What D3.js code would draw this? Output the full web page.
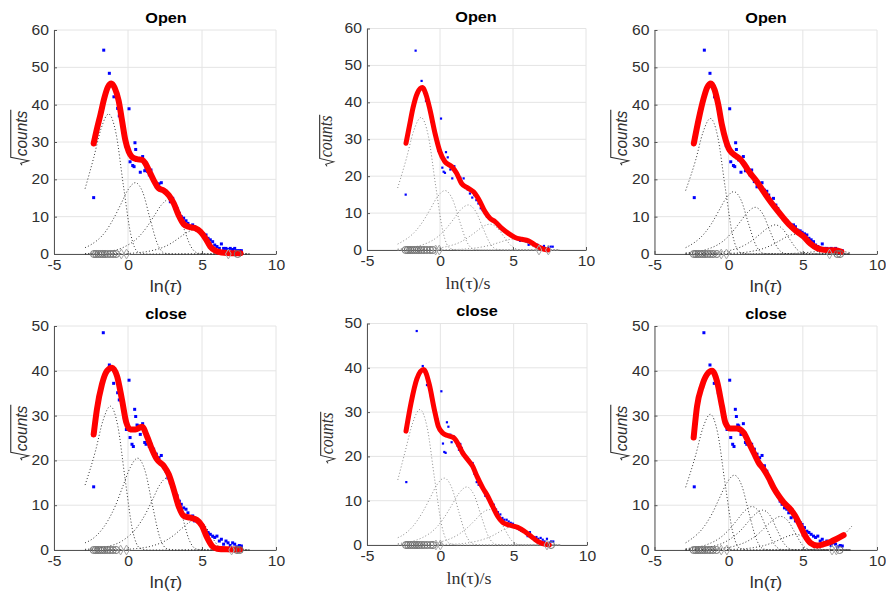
<!DOCTYPE html>
<html>
<head>
<meta charset="utf-8">
<script src="https://cdn.jsdelivr.net/npm/d3@7"></script>
<style>
  body { margin: 0; background: #fff; }
  svg { display: block; }
</style>
</head>
<body>
<svg id="fig" width="886" height="596"></svg>
<script>
// ---- data ----
const titles = ['Open', 'Open', 'Open', 'close', 'close', 'close'];
const xTicks = [-5, 0, 5, 10];
const yTicksOpen = [0, 10, 20, 30, 40, 50, 60];
const yTicksClose = [0, 10, 20, 30, 40, 50];

// sqrt(counts) per log bin, "Open" data set (panels 1 and 3)
const openPts = [[-2.32,15.1],[-1.64,54.6],[-1.26,48.4],[-0.95,42.1],[-0.70,39.0],[-0.59,37.0],[-0.25,31.4],[-0.16,29.0],
  [0.07,38.9],[0.14,24.7],[0.32,23.7],[0.41,23.4],[0.47,29.8],[0.52,28.0],[0.68,25.2],[0.83,21.9],[0.99,26.1],[1.13,22.3],
  [1.22,22.9],[1.33,22.1],[1.44,21.2],[1.55,22.5],[1.73,19.4],[1.91,18.0],[2.09,18.8],[2.25,19.1],[2.41,17.1],[2.57,16.8],
  [2.70,15.8],[2.86,14.0],[3.02,14.9],[3.18,13.1],[3.31,12.2],[3.47,10.9],[3.60,10.0],[3.76,9.6],[3.92,8.9],[4.05,8.2],
  [4.21,7.1],[4.37,7.8],[4.50,7.3],[4.66,6.4],[4.82,6.2],[4.95,5.8],[5.11,5.4],[5.27,5.1],[5.41,4.2],[5.56,3.8],[5.72,3.3],
  [5.86,2.4],[6.01,2.0],[6.17,1.5],[6.31,2.7],[6.46,1.5],[6.62,1.5],[6.76,1.2],[6.91,1.5],[7.07,1.2],[7.21,1.5],[7.36,0.9],
  [7.52,0.9],[7.66,0.9]];
// "Open" data, panel 2
const openPtsB = [[-2.35,15.0],[-1.67,54.0],[-1.26,45.8],[-0.96,40.4],[-0.68,37.0],[-0.57,34.7],[-0.23,29.3],[-0.11,26.9],
  [0.07,35.6],[0.16,22.3],[0.25,21.2],[0.34,20.9],[0.41,26.5],[0.53,25.1],[0.71,21.8],[0.84,19.4],[0.98,22.7],[1.14,20.9],
  [1.26,20.0],[1.39,19.6],[1.48,18.5],[1.62,19.4],[1.76,17.0],[1.89,16.4],[2.05,15.3],[2.21,14.2],[2.35,14.9],[2.49,13.5],
  [2.63,12.6],[2.79,11.3],[2.92,10.8],[3.08,9.9],[3.22,9.0],[3.38,8.6],[3.54,8.3],[3.68,8.1],[3.84,7.4],[3.97,7.0],[4.13,6.0],
  [4.27,5.4],[4.43,5.4],[4.57,5.0],[4.73,4.5],[4.86,4.1],[5.02,3.8],[5.18,3.4],[5.32,2.9],[5.48,2.5],[5.62,2.7],[5.78,2.5],
  [5.91,2.3],[6.07,1.4],[6.21,1.8],[6.37,1.5],[6.51,1.1],[6.67,1.4],[6.80,0.9],[6.96,0.7],[7.12,1.1],[7.26,0.45],[7.42,0.7],
  [7.58,0.9],[7.72,0.9]];
// "close" data set (panels 4 and 6)
const closePts = [[-2.32,14.1],[-1.67,48.5],[-1.26,41.3],[-0.97,37.2],[-0.70,35.1],[-0.59,33.5],[-0.25,29.5],[-0.11,26.9],
  [0.07,37.9],[0.14,25.1],[0.27,23.6],[0.36,23.1],[0.45,31.4],[0.52,29.8],[0.61,27.9],[0.68,27.7],[0.83,25.8],[0.99,28.2],
  [1.13,24.0],[1.22,23.6],[1.33,24.7],[1.44,23.1],[1.55,23.6],[1.73,22.5],[1.91,21.4],[2.09,20.6],[2.25,21.1],[2.41,18.8],
  [2.57,17.6],[2.70,16.1],[2.86,15.0],[3.02,14.3],[3.18,12.8],[3.31,12.1],[3.47,10.9],[3.60,10.2],[3.76,9.4],[3.92,9.1],
  [4.05,8.3],[4.21,7.2],[4.37,7.6],[4.50,6.5],[4.66,6.7],[4.82,6.1],[4.95,5.7],[5.11,5.0],[5.27,4.2],[5.41,3.9],[5.56,3.5],
  [5.72,3.1],[5.86,2.8],[6.01,3.1],[6.17,2.0],[6.31,2.4],[6.46,1.3],[6.62,2.0],[6.76,1.6],[6.91,1.0],[7.07,1.6],[7.21,1.3],
  [7.36,0.7],[7.52,1.0],[7.66,0.9]];
// "close" data, panel 5
const closePtsB = [[-2.32,14.2],[-1.61,48.3],[-1.20,40.4],[-0.91,36.1],[-0.64,33.6],[-0.52,31.7],[-0.18,28.3],[-0.07,26.1],
  [0.07,34.7],[0.18,22.9],[0.27,21.0],[0.36,20.8],[0.45,27.7],[0.55,26.7],[0.68,24.9],[0.77,23.2],[0.91,24.5],[1.07,23.8],
  [1.18,22.4],[1.27,21.5],[1.36,22.8],[1.45,21.9],[1.59,20.8],[1.75,19.7],[1.91,18.9],[2.05,18.5],[2.20,18.5],[2.32,16.1],
  [2.48,14.2],[2.61,13.6],[2.77,13.3],[2.91,12.9],[3.07,11.1],[3.23,10.6],[3.36,10.1],[3.50,9.5],[3.64,9.1],[3.80,8.0],
  [3.93,7.4],[4.09,6.9],[4.23,6.1],[4.36,5.7],[4.52,5.7],[4.66,5.3],[4.80,5.0],[4.95,4.8],[5.09,4.2],[5.23,3.8],[5.39,3.5],
  [5.52,3.2],[5.68,3.1],[5.82,2.9],[5.95,2.0],[6.11,2.9],[6.25,1.6],[6.39,1.4],[6.55,1.8],[6.68,1.4],[6.84,1.6],[6.98,1.2],
  [7.11,0.8],[7.27,1.4],[7.41,0.5],[7.55,0.8],[7.70,0.8]];

// fitted totals (red)
const fit1 = [[-2.32,29.6],[-2.1,33.5],[-1.87,37.2],[-1.6,41.8],[-1.35,44.8],[-1.13,45.7],[-0.9,44.5],[-0.63,41.0],[-0.41,35.9],
  [-0.18,30.5],[0.05,27.4],[0.27,26.0],[0.6,25.4],[0.95,25.2],[1.17,24.3],[1.4,22.5],[1.73,19.8],[2.07,17.6],[2.41,17.0],
  [2.75,15.8],[3.09,13.6],[3.42,10.4],[3.76,8.0],[4.1,7.3],[4.55,6.9],[4.89,6.0],[5.23,4.2],[5.56,2.0],[5.9,0.9],[6.35,0.4],
  [7.0,0.2],[7.6,0.2]];
const fit2 = [[-2.33,28.9],[-2.1,33.5],[-1.85,38.5],[-1.55,42.5],[-1.21,44.0],[-0.95,42.0],[-0.68,37.9],[-0.34,31.6],[0,26.6],
  [0.34,23.9],[0.8,22.6],[1.14,20.8],[1.48,18.0],[1.94,16.7],[2.4,15.3],[2.74,13.1],[3.08,10.4],[3.42,8.6],[3.77,7.7],
  [4.22,5.9],[4.68,4.5],[5.14,3.4],[5.59,2.9],[6.05,2.5],[6.5,1.4],[6.96,0.45],[7.4,0]];
const fit3 = [[-2.35,29.6],[-2.0,36.5],[-1.7,41.5],[-1.45,44.6],[-1.2,45.7],[-0.95,44.0],[-0.7,40.0],[-0.45,34.5],[-0.2,30.5],
  [0,28.3],[0.25,27.0],[0.55,26.1],[0.8,25.3],[1.0,24.3],[1.25,22.8],[1.5,21.4],[1.9,19.4],[2.35,16.7],[2.9,13.6],[3.25,11.8],
  [3.7,9.6],[4.15,7.6],[4.6,6.0],[5.05,4.7],[5.5,2.8],[5.95,1.6],[6.4,1.1],[6.8,1.0],[7.2,1.0],[7.6,0.6]];
const fit4 = [[-2.32,25.8],[-2.1,31.4],[-1.76,37.0],[-1.42,40.0],[-1.08,40.7],[-0.74,38.8],[-0.41,33.6],[-0.11,28.4],[0.16,26.9],
  [0.5,26.9],[0.95,27.5],[1.28,25.4],[1.62,22.5],[1.96,20.2],[2.41,18.8],[2.75,16.9],[3.09,13.5],[3.42,9.8],[3.76,7.6],
  [4.21,7.2],[4.66,6.7],[5.0,5.4],[5.34,2.8],[5.68,0.9],[6.01,0.3],[6.69,0.15],[7.59,0.1]];
const fit5 = [[-2.34,25.7],[-2.0,32.0],[-1.6,37.5],[-1.14,39.6],[-0.75,36.2],[-0.41,30.6],[-0.14,26.8],[0.16,25.3],[0.5,24.7],
  [0.91,24.2],[1.18,23.0],[1.52,20.8],[1.86,19.3],[2.2,17.8],[2.5,15.5],[2.89,12.9],[3.23,11.0],[3.57,8.7],[3.91,6.5],
  [4.25,5.1],[4.59,4.6],[5.05,4.2],[5.39,3.8],[5.73,3.1],[6.18,2.0],[6.64,0.8],[6.98,0.3],[7.43,0]];
const fit6 = [[-2.36,25.1],[-2.13,32.1],[-1.8,36.6],[-1.46,39.2],[-1.12,40.0],[-0.79,37.7],[-0.45,32.1],[-0.22,28.4],[0.11,27.1],
  [0.56,27.1],[1.01,26.2],[1.35,24.0],[1.69,21.7],[2.02,19.5],[2.36,18.0],[2.7,16.1],[3.03,13.9],[3.37,12.1],[3.71,10.6],
  [4.16,9.1],[4.49,7.6],[4.83,5.4],[5.17,3.1],[5.51,1.6],[5.96,1.0],[6.4,1.3],[6.85,1.8],[7.3,2.5],[7.75,3.3]];

// single components (dotted)
const comps1 = [
  [[-2.9,17.5],[-2.31,25.9],[-1.81,33.7],[-1.31,37.5],[-0.81,32.3],[-0.31,18.3],[0.19,5.2],[0.69,0.45],[1.3,0],[8.2,0]],
  [[-2.9,1.7],[-2.5,2.5],[-1.5,6.1],[-1.0,9.3],[-0.5,13.2],[0.0,17.2],[0.5,19.1],[1.0,16.5],[1.5,9.3],[2.0,2.6],[2.5,0.2],[3.2,0],[8.2,0]],
  [[-2.9,0.1],[-1.25,0.7],[-0.25,1.9],[0.75,4.7],[1.25,7.1],[1.75,10.1],[2.25,13.1],[2.75,14.6],[3.25,12.6],[3.75,7.1],[4.25,2.0],[4.75,0.2],[5.4,0],[8.2,0]],
  [[-2.9,0],[-0.45,0.1],[0.55,0.3],[1.55,0.85],[2.55,2.1],[3.05,3.2],[3.55,4.6],[4.05,5.9],[4.55,6.6],[5.05,5.7],[5.55,3.2],[6.05,0.9],[6.55,0.1],[7.2,0],[8.2,0]]
];
const comps2 = [
  [[-2.9,16.8],[-2.3,24.8],[-1.8,32.3],[-1.3,35.9],[-0.8,30.9],[-0.3,17.5],[0.2,5.0],[0.7,0.4],[1.3,0],[8.2,0]],
  [[-2.9,1.6],[-2.66,2.1],[-1.66,5.2],[-1.16,7.8],[-0.66,11.1],[-0.16,14.5],[0.34,16.1],[0.84,13.9],[1.34,7.9],[1.84,2.2],[2.34,0.2],[3.0,0],[8.2,0]],
  [[-2.9,0.25],[-1.06,1.6],[-0.06,3.9],[0.44,5.9],[0.94,8.4],[1.44,11.0],[1.94,12.2],[2.44,10.5],[2.94,6.0],[3.44,1.7],[3.94,0.15],[4.6,0],[8.2,0]],
  [[-2.9,0],[-0.58,0.34],[0.42,0.9],[1.42,2.2],[1.92,3.4],[2.42,4.8],[2.92,6.3],[3.42,7.0],[3.92,6.0],[4.42,3.4],[4.92,1.0],[5.42,0.1],[6.1,0],[8.2,0]],
  [[-2.9,0],[1.1,0.15],[2.1,0.4],[3.1,1.0],[3.6,1.5],[4.1,2.1],[4.6,2.7],[5.1,3.0],[5.6,2.6],[6.1,1.5],[6.6,0.4],[7.1,0.04],[7.8,0],[8.2,0]]
];
const comps3 = [
  [[-2.9,17],[-2.23,25.1],[-1.73,32.6],[-1.23,36.3],[-0.73,31.3],[-0.23,17.7],[0.27,5.0],[0.77,0.4],[1.4,0],[8.2,0]],
  [[-2.9,1.7],[-2.66,2.2],[-1.66,5.4],[-1.16,8.1],[-0.66,11.6],[-0.16,15.0],[0.34,16.7],[0.84,14.4],[1.34,8.1],[1.84,2.3],[2.34,0.2],[3.0,0],[8.2,0]],
  [[-2.9,0.3],[-1.21,1.6],[-0.21,4.0],[0.29,6.1],[0.79,8.7],[1.29,11.2],[1.79,12.5],[2.29,10.8],[2.79,6.1],[3.29,1.7],[3.79,0.15],[4.5,0],[8.2,0]],
  [[-2.9,0],[-0.86,0.38],[0.14,1.0],[1.14,2.5],[1.64,3.8],[2.14,5.4],[2.64,7.0],[3.14,7.8],[3.64,6.7],[4.14,3.8],[4.64,1.1],[5.14,0.1],[5.8,0],[8.2,0]],
  [[-2.9,0],[0.5,0.26],[1.5,0.68],[2.5,1.7],[3.0,2.6],[3.5,3.7],[4.0,4.8],[4.5,5.3],[5.0,4.6],[5.5,2.6],[6.0,0.7],[6.5,0.06],[7.2,0],[8.2,0]],
  [[-2.9,0],[4.0,0.13],[5.0,0.32],[6.0,0.69],[6.5,0.9],[7.0,1.0],[7.5,0.86],[8.0,0.49],[8.2,0.35]]
];
const comps4 = [
  [[-2.9,14.5],[-2.19,22.2],[-1.69,28.9],[-1.19,32.1],[-0.69,27.7],[-0.19,15.7],[0.31,4.4],[0.81,0.4],[1.4,0],[8.2,0]],
  [[-2.9,1.6],[-2.35,2.6],[-1.35,6.6],[-0.85,9.9],[-0.35,14.2],[0.15,18.4],[0.65,20.5],[1.15,17.7],[1.65,10.0],[2.15,2.8],[2.65,0.25],[3.3,0],[8.2,0]],
  [[-2.9,0.15],[-1.36,0.8],[-0.36,2.1],[0.64,5.2],[1.14,7.8],[1.64,11.1],[2.14,14.5],[2.64,16.1],[3.14,13.9],[3.64,7.9],[4.14,2.2],[4.64,0.2],[5.3,0],[8.2,0]],
  [[-2.9,0],[-0.4,0.12],[0.6,0.33],[1.6,0.88],[2.6,2.2],[3.1,3.3],[3.6,4.7],[4.1,6.1],[4.6,6.8],[5.1,5.9],[5.6,3.3],[6.1,0.9],[6.6,0.08],[7.3,0],[8.2,0]]
];
const comps5 = [
  [[-2.9,14.7],[-2.39,21.2],[-1.89,27.5],[-1.39,30.6],[-0.89,26.4],[-0.39,14.9],[0.11,4.2],[0.61,0.4],[1.2,0],[8.2,0]],
  [[-2.9,1.65],[-2.73,1.9],[-1.73,4.8],[-1.23,7.3],[-0.73,10.4],[-0.23,13.6],[0.27,15.1],[0.77,13.0],[1.27,7.4],[1.77,2.1],[2.27,0.2],[2.9,0],[8.2,0]],
  [[-2.9,0.3],[-1.2,1.7],[-0.2,4.2],[0.3,6.4],[0.8,9.1],[1.3,11.8],[1.8,13.1],[2.3,11.3],[2.8,6.4],[3.3,1.8],[3.8,0.15],[4.5,0],[8.2,0]],
  [[-2.9,0],[-0.66,0.39],[0.34,1.0],[1.34,2.6],[1.84,3.9],[2.34,5.5],[2.84,7.2],[3.34,8.0],[3.84,6.9],[4.34,3.9],[4.84,1.1],[5.34,0.1],[6.0,0],[8.2,0]],
  [[-2.9,0],[1.0,0.2],[2.0,0.54],[3.0,1.35],[3.5,2.0],[4.0,2.9],[4.5,3.8],[5.0,4.2],[5.5,3.6],[6.0,2.0],[6.5,0.6],[7.0,0.05],[7.7,0],[8.2,0]]
];
const comps6 = [
  [[-2.9,14],[-2.24,21.0],[-1.74,27.2],[-1.24,30.3],[-0.74,26.1],[-0.24,14.8],[0.26,4.2],[0.76,0.36],[1.4,0],[8.2,0]],
  [[-2.9,1.6],[-2.62,2.2],[-1.62,5.4],[-1.12,8.1],[-0.62,11.6],[-0.12,15.0],[0.38,16.7],[0.88,14.4],[1.38,8.1],[1.88,2.3],[2.38,0.2],[3.0,0],[8.2,0]],
  [[-2.9,0.3],[-1.43,1.25],[-0.43,3.1],[0.07,4.7],[0.57,6.7],[1.07,8.7],[1.57,9.7],[2.07,8.4],[2.57,4.7],[3.07,1.3],[3.57,0.1],[4.3,0],[8.2,0]],
  [[-2.9,0.1],[-0.71,1.15],[0.29,2.9],[0.79,4.3],[1.29,6.2],[1.79,8.0],[2.29,8.9],[2.79,7.7],[3.29,4.3],[3.79,1.2],[4.29,0.1],[5.0,0],[8.2,0]],
  [[-2.9,0],[-0.5,0.37],[0.5,0.97],[1.5,2.4],[2.0,3.6],[2.5,5.2],[3.0,6.7],[3.5,7.5],[4.0,6.5],[4.5,3.7],[5.0,1.0],[5.5,0.1],[6.2,0],[8.2,0]],
  [[-2.9,0],[0.5,0.17],[1.5,0.45],[2.5,1.1],[3.0,1.7],[3.5,2.4],[4.0,3.1],[4.5,3.5],[5.0,3.0],[5.5,1.7],[6.0,0.5],[6.5,0.04],[7.2,0],[8.2,0]],
  [[-2.9,0],[5.0,0],[6.0,0.4],[6.5,0.9],[7.0,1.6],[7.5,2.7],[8.0,4.2],[8.3,5.3]]
];

// grey markers on the baseline
const circlesX = [
  [-2.3,-2.15,-2.0,-1.85,-1.7,-1.55,-1.38,-1.2,-1.0,-0.8,7.41],
  [-2.35,-2.2,-2.05,-1.9,-1.75,-1.6,-1.45,-1.28,-1.1,-0.9,-0.68,-0.5],
  [-2.35,-2.2,-2.05,-1.9,-1.75,-1.6,-1.43,-1.25,-1.05,-0.8,7.33,7.51],
  [-2.32,-2.17,-2.02,-1.87,-1.72,-1.57,-1.4,-1.22,-1.02,-0.8,7.36,7.55],
  [-2.34,-2.19,-2.04,-1.89,-1.74,-1.59,-1.44,-1.27,-1.09,-0.89,-0.67,-0.5,7.55],
  [-2.36,-2.21,-2.06,-1.91,-1.76,-1.61,-1.44,-1.26,-1.06,-0.82,7.48]
];
const diamondsX = [
  [-0.45,-0.1,6.78],
  [-0.3,-0.05,6.78,7.42],
  [-0.5,-0.15,6.8],
  [-0.5,-0.1,7.0],
  [-0.3,0,7.27],
  [-0.5,-0.12,6.97,7.26]
];

// ---- layout ----
const panels = [
  {L:54, R:276, T:30, B:254, yt:yTicksOpen, pts:openPts, fit:fit1, comps:comps1, serif:false, tx:166, ty:23, lx:166, ly:292, ylx:27, yly:138},
  {L:367, R:586, T:28.5, B:250, yt:yTicksOpen, pts:openPtsB, fit:fit2, comps:comps2, serif:true, tx:476, ty:22, lx:468, ly:289, ylx:332, yly:141},
  {L:654.5, R:877, T:30, B:254, yt:yTicksOpen, pts:openPts, fit:fit3, comps:comps3, serif:false, tx:766, ty:23, lx:766, ly:292, ylx:627, yly:138},
  {L:54, R:276, T:326, B:550, yt:yTicksClose, pts:closePts, fit:fit4, comps:comps4, serif:false, tx:166, ty:319, lx:166, ly:588, ylx:27, yly:433},
  {L:367, R:587, T:323.5, B:545, yt:yTicksClose, pts:closePtsB, fit:fit5, comps:comps5, serif:true, tx:477, ty:316, lx:469, ly:584, ylx:333, yly:438},
  {L:654.5, R:877, T:326, B:550, yt:yTicksClose, pts:closePts, fit:fit6, comps:comps6, serif:false, tx:766, ty:319, lx:766, ly:588, ylx:627, yly:433}
];

const svg = d3.select('#fig');
const SANS = "'Liberation Sans', Arial, Helvetica, sans-serif";
const SERIF = "'Liberation Serif', 'Times New Roman', serif";
const TXT = '#303030';
const STRETCH = 1.12; // the figure is a bit wider than tall

function drawPanel(p, i) {
  const x = d3.scaleLinear().domain([-5, 10]).range([p.L, p.R]);
  const y = d3.scaleLinear().domain([0, p.yt[p.yt.length - 1]]).range([p.B, p.T]);
  const g = svg.append('g');

  // grid
  g.selectAll('.gx').data(xTicks).join('line')
    .attr('x1', d => x(d)).attr('x2', d => x(d)).attr('y1', p.T).attr('y2', p.B)
    .attr('stroke', '#e4e4e4').attr('stroke-width', 1);
  g.selectAll('.gy').data(p.yt).join('line')
    .attr('x1', p.L).attr('x2', p.R).attr('y1', d => y(d)).attr('y2', d => y(d))
    .attr('stroke', '#e4e4e4').attr('stroke-width', 1);

  // axes
  const ax = g.append('g').attr('transform', `translate(0,${p.B})`)
    .call(d3.axisBottom(x).tickValues(xTicks).tickFormat(d => String(d)).tickSizeInner(-3).tickSizeOuter(0).tickPadding(p.serif ? 6 : 6));
  const ay = g.append('g').attr('transform', `translate(${p.L},0)`)
    .call(d3.axisLeft(y).tickValues(p.yt).tickFormat(d => String(d)).tickSizeInner(-3).tickSizeOuter(0).tickPadding(5));
  [ax, ay].forEach(a => {
    a.select('.domain').attr('stroke', '#555');
    a.selectAll('.tick line').attr('stroke', '#555');
    a.selectAll('text').attr('font-family', SANS).attr('font-size', 14).attr('fill', TXT);
  });
  ax.selectAll('text').attr('transform', `scale(${STRETCH},1)`);
  ay.selectAll('text').each(function () {
    const t = d3.select(this);
    const tx = +t.attr('x');
    t.attr('x', 0).attr('transform', `translate(${tx},0) scale(${STRETCH},1)`);
  });

  // components
  const line = d3.line().x(d => x(d[0])).y(d => y(d[1])).curve(d3.curveMonotoneX);
  g.selectAll('.comp').data(p.comps).join('path')
    .attr('d', line).attr('fill', 'none')
    .attr('stroke', p.serif ? '#8a8a8a' : '#333').attr('stroke-width', 1)
    .attr('stroke-dasharray', '1,2.2');

  // data points
  const s = p.serif ? 2.2 : 3;
  g.selectAll('.pt').data(p.pts).join('rect')
    .attr('x', d => x(d[0]) - s / 2).attr('y', d => y(d[1]) - s / 2)
    .attr('width', s).attr('height', s).attr('fill', '#0000ff');

  // fit
  g.append('path').datum(p.fit).attr('d', line).attr('fill', 'none')
    .attr('stroke', '#ff0000').attr('stroke-width', p.serif ? 5 : 6)
    .attr('stroke-linecap', 'round').attr('stroke-linejoin', 'round');

  // baseline markers
  g.selectAll('.circ').data(circlesX[i]).join('circle')
    .attr('cx', d => x(d)).attr('cy', y(0)).attr('r', 3.5)
    .attr('fill', 'none').attr('stroke', '#707070').attr('stroke-width', 1);
  const diamond = d3.symbol().type(d3.symbolDiamond).size(28);
  g.selectAll('.diam').data(diamondsX[i]).join('path')
    .attr('d', diamond).attr('transform', d => `translate(${x(d)},${y(0)})`)
    .attr('fill', 'none').attr('stroke', '#a8a8a8').attr('stroke-width', 1);

  // title
  svg.append('text').attr('transform', `translate(${p.tx},${p.ty}) scale(${STRETCH},1)`)
    .attr('text-anchor', 'middle').attr('font-family', SANS).attr('font-weight', 'bold')
    .attr('font-size', 14.5).attr('fill', '#000').text(titles[i]);

  // x label
  const xl = svg.append('text').attr('transform', `translate(${p.lx},${p.ly}) scale(${STRETCH},1)`)
    .attr('text-anchor', 'middle').attr('fill', TXT);
  if (p.serif) {
    xl.attr('font-family', SERIF).attr('font-size', 16).text('ln(τ)/s');
  } else {
    xl.attr('font-family', SANS).attr('font-size', 16);
    xl.append('tspan').text('ln(');
    xl.append('tspan').attr('font-style', 'italic').text('τ');
    xl.append('tspan').text(')');
  }

  // y label: sqrt(counts)
  const yl = svg.append('g').attr('transform', `translate(${p.ylx},${p.yly}) scale(${STRETCH},1) rotate(-90)`);
  const t = yl.append('text').attr('font-family', p.serif ? SERIF : SANS).attr('font-style', 'italic')
    .attr('font-size', p.serif ? 16 : 15.5).attr('fill', TXT).text('counts');
  const w = t.node().getComputedTextLength();
  const rw = 9;
  const x0 = -(w + rw) / 2;
  t.attr('x', x0 + rw);
  const top = p.serif ? -11 : -14.5;
  yl.append('path')
    .attr('d', `M${x0},-4.5 L${x0 + 2},-5.6 L${x0 + 4.5},1.5 L${x0 + rw - 1},${top} L${x0 + rw + w + 1},${top}`)
    .attr('fill', 'none').attr('stroke', TXT).attr('stroke-width', 1);
}

panels.forEach(drawPanel);
</script>
</body>
</html>
